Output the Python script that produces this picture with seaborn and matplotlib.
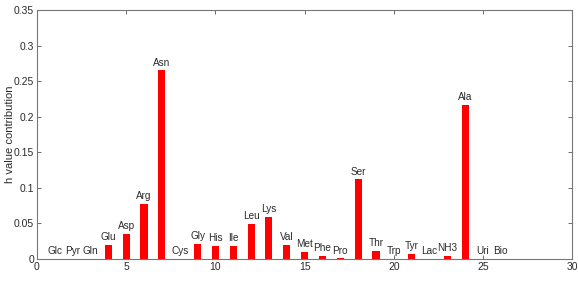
import matplotlib
matplotlib.use("Agg")
import matplotlib.pyplot as plt
import seaborn as sns
import pandas as pd

names = ["Glc", "Pyr", "Gln", "Glu", "Asp", "Arg", "Asn", "Cys", "Gly", "His",
         "Ile", "Leu", "Lys", "Val", "Met", "Phe", "Pro", "Ser", "Thr", "Trp",
         "Tyr", "Lac", "NH3", "Ala", "Uri", "Bio"]
positions = list(range(1, 27))
values = [0.0, 0.0, 0.0, 0.020, 0.035, 0.078, 0.265, 0.0, 0.021, 0.018,
          0.018, 0.049, 0.059, 0.020, 0.010, 0.004, 0.001, 0.112, 0.011, 0.0005,
          0.007, 0.0, 0.004, 0.217, 0.0, 0.0]

df = pd.DataFrame({"pos": positions, "val": values, "name": names})

sns.set_style("white")
plt.rcParams['font.family'] = ['Liberation Sans', 'DejaVu Sans']

fig = plt.figure(figsize=(5.78, 2.84), dpi=100)
ax = fig.add_axes([0.064, 0.088, 0.926, 0.877])
sns.barplot(data=df, x="pos", y="val", native_scale=True, width=0.4,
            color="#ff0000", saturation=1, edgecolor="none", ax=ax)

for p, v, n in zip(positions, values, names):
    ax.annotate(n, (p, v), xytext=(0, 2), textcoords="offset points",
                ha="center", va="bottom", fontsize=7.2, color="#2a2a2a")

ax.set_xlim(0, 30)
ax.set_ylim(0, 0.35)
ax.set_xticks([0, 5, 10, 15, 20, 25, 30])
ax.set_xticklabels(["0", "5", "10", "15", "20", "25", "30"])
yt = [0, 0.05, 0.1, 0.15, 0.2, 0.25, 0.3, 0.35]
ax.set_yticks(yt)
ax.set_yticklabels(["0", "0.05", "0.1", "0.15", "0.2", "0.25", "0.3", "0.35"])
ax.set_xlabel("")
ax.set_ylabel("h value contribution", fontsize=8, color="#2a2a2a")
ax.yaxis.set_label_coords(-0.042, 0.5)
ax.tick_params(direction="in", length=3, width=0.6, colors="#555555",
               labelcolor="#2a2a2a", labelsize=7.5, top=True, right=True,
               bottom=True, left=True, pad=2)
for s in ax.spines.values():
    s.set_color("#777777")
    s.set_linewidth(0.8)

fig.savefig("out.png", dpi=100)
